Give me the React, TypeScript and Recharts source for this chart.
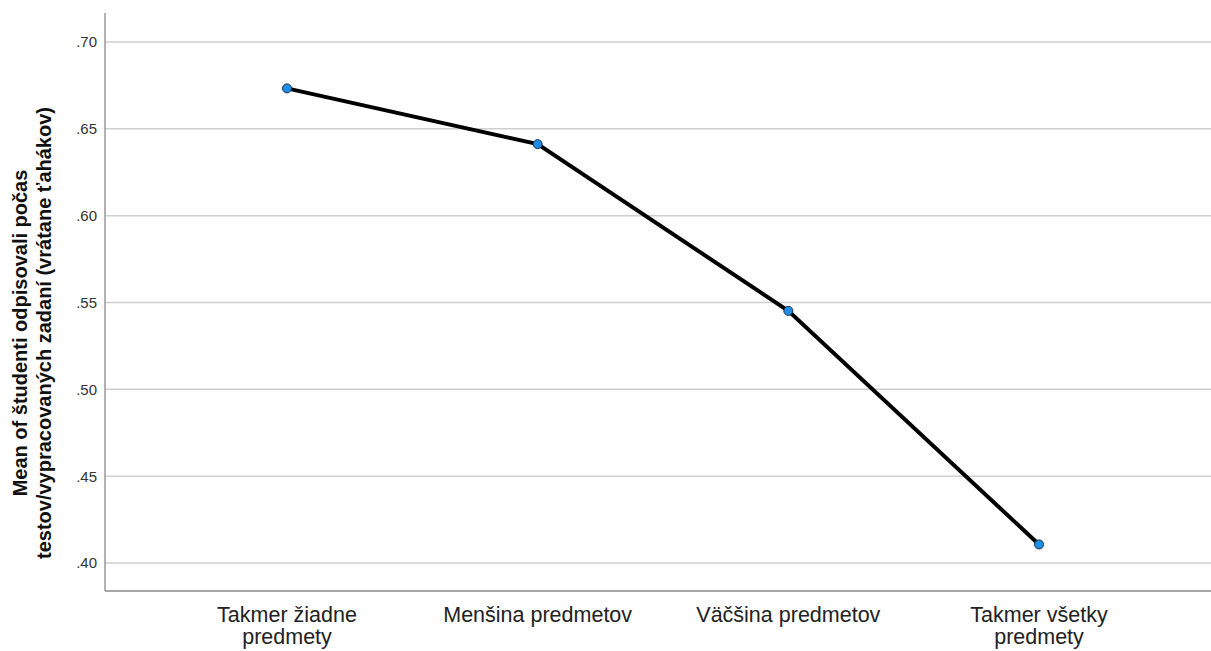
import React from 'react'
import { Label, Line, LineChart, ReferenceLine, XAxis, YAxis } from 'recharts'

const categories = [
  'Takmer žiadne\npredmety',
  'Menšina predmetov',
  'Väčšina predmetov',
  'Takmer všetky\npredmety'
]
const means = [0.6733, 0.6412, 0.5452, 0.4107]
const yTicks = [0.4, 0.45, 0.5, 0.55, 0.6, 0.65, 0.7]
const yLabelLines = [
  'Mean of študenti odpisovali počas',
  'testov/vypracovaných zadaní (vrátane ťahákov)'
]

const data = categories.map((name, i) => ({ name, mean: means[i] }))

const FONT = '"Liberation Sans", Arial, sans-serif'

const CategoryTick = ({ x, y, payload }: any) => {
  const lines = String(payload.value).split('\n')
  return (
    <text x={x} y={y} textAnchor="middle" fill="#222" fontSize={21.5} fontFamily={FONT}>
      {lines.map((l, i) => (
        <tspan key={i} x={x} y={y + 23 + i * 22}>
          {l}
        </tspan>
      ))}
    </text>
  )
}

const YTitle = () => {
  const cy = 333
  return (
    <text
      transform={`translate(0, ${cy}) rotate(-90)`}
      textAnchor="middle"
      fontSize={20}
      fontWeight="bold"
      fill="#111"
      fontFamily={FONT}
    >
      {yLabelLines.map((l, i) => (
        <tspan key={i} x={0} y={27 + i * 24}>
          {l}
        </tspan>
      ))}
    </text>
  )
}

const Dot = ({ cx, cy }: any) => (
  <circle cx={cx} cy={cy} r={4.5} fill="#1e8de8" stroke="#1b2f45" strokeWidth={1} />
)

export default function App() {
  return (
    <div style={{ position: 'absolute', left: 0, top: 0, background: '#fff' }}>
      <LineChart
        width={1211}
        height={651}
        data={data}
        margin={{ top: 13, right: 0, bottom: 0, left: 0 }}
        accessibilityLayer={false}
        style={{ outline: 'none' }}
      >
        {yTicks.map((t) => (
          <ReferenceLine key={t} y={t} stroke="#cfcfcf" strokeWidth={1.5} />
        ))}
        <XAxis
          dataKey="name"
          height={60}
          padding={{ left: 182, right: 172 }}
          tickLine={false}
          axisLine={{ stroke: '#888', strokeWidth: 1.5 }}
          tick={<CategoryTick />}
          interval={0}
        />
        <YAxis
          width={105}
          domain={[0.3839, 0.7167]}
          ticks={yTicks}
          tickLine={false}
          tickSize={0}
          tickMargin={8}
          axisLine={{ stroke: '#999', strokeWidth: 1.5 }}
          tick={{ fill: '#333', fontSize: 15, fontFamily: FONT }}
          tickFormatter={(v: number) => v.toFixed(2).replace(/^0/, '')}
        >
          <Label content={<YTitle />} />
        </YAxis>
        <Line
          type="linear"
          dataKey="mean"
          stroke="#000"
          strokeWidth={4}
          dot={<Dot />}
          activeDot={false}
          isAnimationActive={false}
        />
      </LineChart>
    </div>
  )
}
